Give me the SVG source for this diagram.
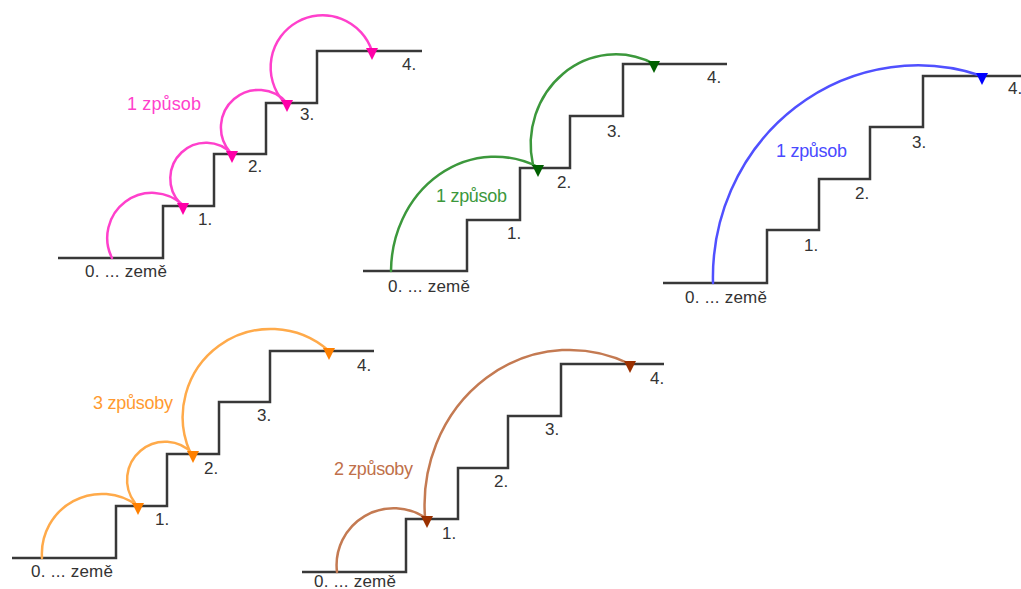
<svg xmlns="http://www.w3.org/2000/svg" xmlns:xlink="http://www.w3.org/1999/xlink" width="1021" height="589" viewBox="0 0 1021 589">
  <style>
    .stair { fill: none; stroke: #383838; stroke-width: 2.5; stroke-linejoin: miter; }
    .jump { fill: none; stroke-width: 2.5; stroke-linecap: round; }
    .num { font-family: "Liberation Sans", Arial, sans-serif; font-size: 17px; fill: #333333; }
    .lbl { font-family: "Liberation Sans", Arial, sans-serif; font-size: 18px; }
    .pink { stroke: #ff40cc; } .pinkF { fill: #ff00a8; } .pinkT { fill: #ff40cc; }
    .green { stroke: #3c983c; } .greenF { fill: #006000; } .greenT { fill: #3c983c; }
    .blue { stroke: #5050ff; } .blueF { fill: #0000ff; } .blueT { fill: #4a4aff; }
    .orange { stroke: #ffaa4a; } .orangeF { fill: #ff8000; } .orangeT { fill: #ff9a30; }
    .brown { stroke: #c47a52; } .brownF { fill: #9a3000; } .brownT { fill: #c0704a; }
  </style>
  <defs>
    <!-- downward landing tip, origin on the tread line -->
    <path id="tip" d="M-6,-3 L6,-3 L0,9 Z"/>
  </defs>
  <rect width="1021" height="589" fill="#ffffff"/>

  <!-- staircase A: one step at a time -->
  <g id="stairs-a">
    <path class="stair" d="M58,258 H163 V206 H214 V154 H266 V103 H317 V51 H422"/>
    <text class="num" x="85" y="277" textLength="82" lengthAdjust="spacing">0. ... země</text>
    <text class="num" x="198" y="225">1.</text>
    <text class="num" x="248" y="172">2.</text>
    <text class="num" x="300" y="120">3.</text>
    <text class="num" x="402" y="70">4.</text>
    <text class="lbl pinkT" x="127" y="110" textLength="74" lengthAdjust="spacing">1 způsob</text>
  </g>

  <!-- staircase B: two steps, then two steps -->
  <g id="stairs-b">
    <path class="stair" d="M363,271 H467 V220 H520 V168 H570 V116 H623 V64 H727"/>
    <text class="num" x="388" y="292" textLength="82" lengthAdjust="spacing">0. ... země</text>
    <text class="num" x="507" y="239">1.</text>
    <text class="num" x="557" y="188">2.</text>
    <text class="num" x="607" y="137">3.</text>
    <text class="num" x="707" y="83">4.</text>
    <text class="lbl greenT" x="436" y="202" textLength="71" lengthAdjust="spacing">1 způsob</text>
  </g>

  <!-- staircase C: all four steps at once -->
  <g id="stairs-c">
    <path class="stair" d="M663,283 H767 V230 H819 V179 H870 V127 H923 V76 H1021"/>
    <text class="num" x="685" y="303" textLength="82" lengthAdjust="spacing">0. ... země</text>
    <text class="num" x="804" y="251">1.</text>
    <text class="num" x="855" y="199">2.</text>
    <text class="num" x="912" y="148">3.</text>
    <text class="num" x="1008" y="94">4.</text>
    <text class="lbl blueT" x="776" y="157" textLength="71" lengthAdjust="spacing">1 způsob</text>
  </g>

  <!-- staircase D: ways of reaching step 2 -->
  <g id="stairs-d">
    <path class="stair" d="M12,558 H116 V506 H167 V454 H219 V402 H270 V351 H374"/>
    <text class="num" x="31" y="577" textLength="82" lengthAdjust="spacing">0. ... země</text>
    <text class="num" x="155" y="525">1.</text>
    <text class="num" x="204" y="474">2.</text>
    <text class="num" x="257" y="421">3.</text>
    <text class="num" x="357" y="371">4.</text>
    <text class="lbl orangeT" x="93" y="409" textLength="80" lengthAdjust="spacing">3 způsoby</text>
  </g>

  <!-- staircase E: ways of reaching step 1 -->
  <g id="stairs-e">
    <path class="stair" d="M302,572 H406 V519 H458 V468 H508 V416 H561 V364 H664"/>
    <text class="num" x="314" y="587" textLength="82" lengthAdjust="spacing">0. ... země</text>
    <text class="num" x="442" y="539">1.</text>
    <text class="num" x="494" y="487">2.</text>
    <text class="num" x="545" y="435">3.</text>
    <text class="num" x="650" y="384">4.</text>
    <text class="lbl brownT" x="334" y="475" textLength="79" lengthAdjust="spacing">2 způsoby</text>
  </g>

  <!-- jumps between steps -->
  <g id="jumps">
    <path class="jump pink" d="M112,258 A45,45 0 0 1 183,205"/>
    <path class="jump pink" d="M180,203 A35,35 0 0 1 232,154"/>
    <path class="jump pink" d="M230,152 A37,37 0 0 1 287,103"/>
    <path class="jump pink" d="M283,101 A52,52 0 1 1 372,51"/>
    <use xlink:href="#tip" class="pinkF" x="183" y="206"/>
    <use xlink:href="#tip" class="pinkF" x="232" y="154"/>
    <use xlink:href="#tip" class="pinkF" x="287" y="103"/>
    <use xlink:href="#tip" class="pinkF" x="372" y="51"/>

    <path class="jump green" d="M391,271 A104,115 0 0 1 538,167"/>
    <path class="jump green" d="M533,165 A85,90 0 0 1 654,64"/>
    <use xlink:href="#tip" class="greenF" x="538" y="168"/>
    <use xlink:href="#tip" class="greenF" x="654" y="64"/>

    <path class="jump blue" d="M713,283 A205,212 0 0 1 982,76"/>
    <use xlink:href="#tip" class="blueF" x="982" y="76"/>

    <path class="jump orange" d="M42,558 A60,60 0 0 1 138,506"/>
    <path class="jump orange" d="M135,503 A38,38 0 0 1 193,454"/>
    <path class="jump orange" d="M190,452 A88,88 0 0 1 329,351"/>
    <use xlink:href="#tip" class="orangeF" x="138" y="506"/>
    <use xlink:href="#tip" class="orangeF" x="193" y="454"/>
    <use xlink:href="#tip" class="orangeF" x="329" y="351"/>

    <path class="jump brown" d="M337,572 A57,57 0 0 1 427,519"/>
    <path class="jump brown" d="M425,517 A145,155 0 0 1 630,364"/>
    <use xlink:href="#tip" class="brownF" x="427" y="519"/>
    <use xlink:href="#tip" class="brownF" x="630" y="364"/>
  </g>
</svg>
